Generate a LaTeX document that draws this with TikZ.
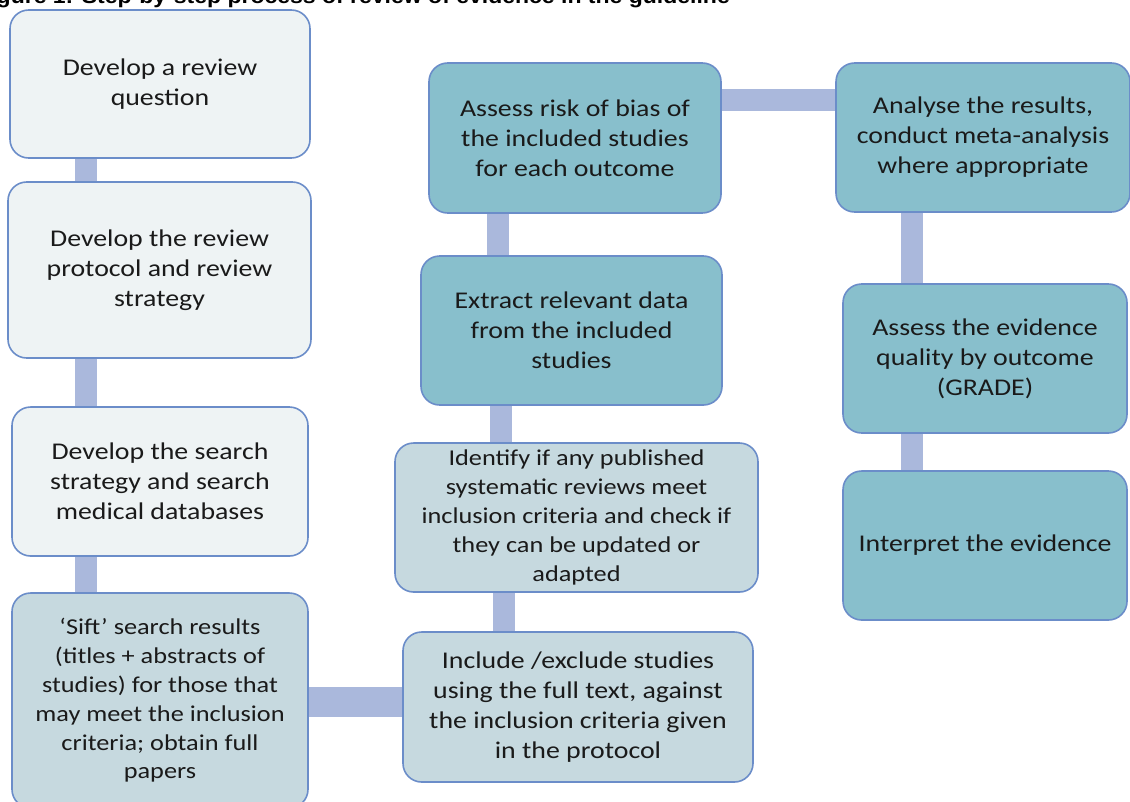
\documentclass[tikz,border=0pt]{standalone}
\usepackage{fontspec}
\setmainfont{Carlito}[FakeStretch=1.16]
\newfontfamily\titlefont{Liberation Sans}[FakeStretch=1.12]
\usetikzlibrary{calc,backgrounds}
\definecolor{lightfill}{HTML}{EEF3F4}
\definecolor{greyfill}{HTML}{C6D9DF}
\definecolor{tealfill}{HTML}{88BFCC}
\definecolor{boxline}{HTML}{6B8DC9}
\definecolor{connfill}{HTML}{AAB8DC}
\definecolor{textcol}{HTML}{1A1A1A}
\tikzset{
  stepbox/.style={draw=boxline, line width=1.2pt, rounded corners=14pt,
    align=center, inner sep=0pt, text=textcol,
    font=\fontsize{18}{22.5}\selectfont},
  lightbox/.style={stepbox, fill=lightfill},
  greybox/.style={stepbox, fill=greyfill},
  tealbox/.style={stepbox, fill=tealfill},
  smalltext/.style={font=\fontsize{17}{21.6}\selectfont},
  conn/.style={draw=connfill, line width=16.5pt},
  hconn/.style={draw=connfill, line width=22pt}
}
\begin{document}
\begin{tikzpicture}[x=0.75pt,y=-0.75pt]
\useasboundingbox (0,0) rectangle (1130,801);
\clip (0,0) rectangle (1130,801);

\node[anchor=base west, inner sep=0pt, font=\titlefont\bfseries\fontsize{15.4}{18}\selectfont] (title) at (-24,3)
  {Figure 1: Step-by-step process of review of evidence in the guideline};

\node[lightbox, minimum width=225pt, minimum height=111pt] (b1) at (160,84)
  {Develop a review\\question};
\node[lightbox, minimum width=227.25pt, minimum height=132pt] (b2) at (159.5,270)
  {Develop the review\\protocol and review\\strategy};
\node[lightbox, minimum width=222pt, minimum height=111.75pt] (b3) at (160,481.5)
  {Develop the search\\strategy and search\\medical databases};
\node[greybox, smalltext, minimum width=222pt, minimum height=161.25pt] (b4) at (160,700.5)
  {‘Sift’ search results\\(titles + abstracts of\\studies) for those that\\may meet the inclusion\\criteria; obtain full\\papers};
\node[greybox, minimum width=262.5pt, minimum height=112.5pt] (b5) at (578,707)
  {Include /exclude studies\\using the full text, against\\the inclusion criteria given\\in the protocol};
\node[greybox, smalltext, minimum width=272.25pt, minimum height=111.75pt] (b6) at (576.5,517.5)
  {Identify if any published\\systematic reviews meet\\inclusion criteria and check if\\they can be updated or\\adapted};
\node[tealbox, minimum width=225.75pt, minimum height=111.75pt] (b7) at (571.5,330.5)
  {Extract relevant data\\from the included\\studies};
\node[tealbox, minimum width=219pt, minimum height=112.5pt] (b8) at (575,138)
  {Assess risk of bias of\\the included studies\\for each outcome};
\node[tealbox, minimum width=220.5pt, minimum height=111.75pt] (b9) at (983,137.5)
  {Analyse the results,\\conduct meta-analysis\\where appropriate};
\node[tealbox, minimum width=213pt, minimum height=111.75pt] (b10) at (985,358.5)
  {Assess the evidence\\quality by outcome\\(GRADE)};
\node[tealbox, minimum width=213pt, minimum height=111.75pt] (b11) at (985,545.5)
  {Interpret the evidence};

\begin{pgfonlayer}{background}
\fill[white] (0,0) rectangle (1130,801);
\draw[conn] ($(b1.south)+(-74,0)$) -- ($(b2.north)+(-73.5,0)$);
\draw[conn] ($(b2.south)+(-73.5,0)$) -- ($(b3.north)+(-74,0)$);
\draw[conn] ($(b3.south)+(-74,0)$) -- ($(b4.north)+(-74,0)$);
\draw[hconn] ($(b4.east)+(0,1.5)$) -- ($(b5.west)+(0,-5)$);
\draw[conn] ($(b5.north)+(-74,0)$) -- ($(b6.south)+(-72.5,0)$);
\draw[conn] ($(b6.north)+(-75.5,0)$) -- ($(b7.south)+(-70.5,0)$);
\draw[conn] ($(b7.north)+(-73.5,0)$) -- ($(b8.south)+(-77,0)$);
\draw[conn] ($(b8.east)+(0,-38)$) -- ($(b9.west)+(0,-37.5)$);
\draw[conn] ($(b9.south)+(-71,0)$) -- ($(b10.north)+(-73,0)$);
\draw[conn] ($(b10.south)+(-73,0)$) -- ($(b11.north)+(-73,0)$);
\end{pgfonlayer}
\end{tikzpicture}
\end{document}
